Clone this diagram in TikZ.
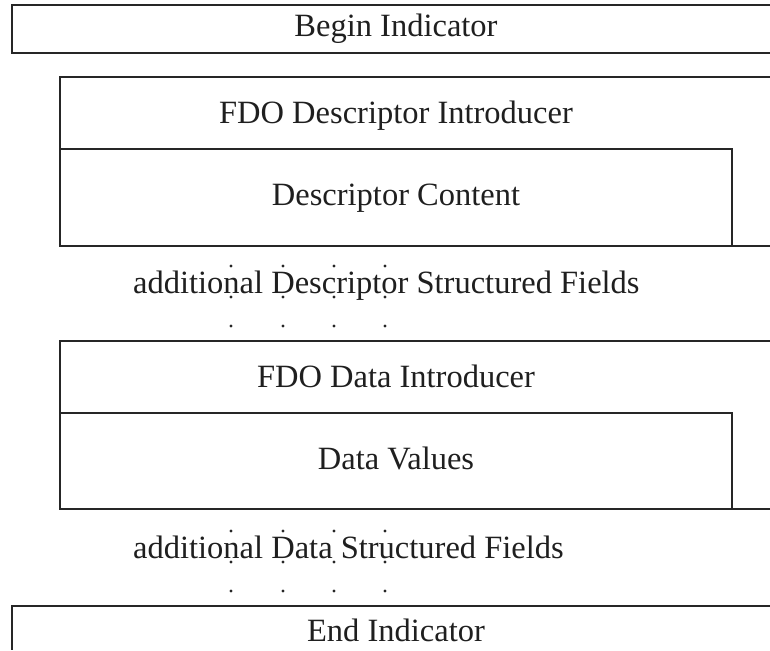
\documentclass[tikz,border=0pt]{standalone}
\usepackage{fontspec}
\setmainfont{Liberation Serif}
\begin{document}
\begin{tikzpicture}[x=1pt,y=-1pt,
  lbl/.style={inner sep=0pt,font=\fontsize{32.5}{38}\selectfont,text=black!88},
  boxline/.style={draw=black!85,line width=1.2pt,line join=miter},
  dotmark/.style={fill=black!85},
]
\useasboundingbox (0,0) rectangle (770,650);
% Begin Indicator
\draw[boxline] (770,5) -- (12,5) -- (12,53) -- (770,53);
\node[lbl,anchor=base] (begin) at (396,37) {Begin Indicator};
% FDO Descriptor
\draw[boxline] (770,77) -- (60,77) -- (60,246) -- (770,246);
\draw[boxline] (60,149) -- (732,149) -- (732,246);
\node[lbl,anchor=base] (fdodesc) at (396,123) {FDO Descriptor Introducer};
\node[lbl,anchor=base] (desccont) at (396,205) {Descriptor Content};
% additional descriptor fields
\node[lbl,anchor=base west] (adddesc) at (133,293) {additional Descriptor Structured Fields};
\foreach \xx in {231,283,334,385}{
  \foreach \yy in {266,297,326}{
    \fill[dotmark] (\xx,\yy) circle (1.7);
  }
}
% FDO Data
\draw[boxline] (770,341) -- (60,341) -- (60,509) -- (770,509);
\draw[boxline] (60,413) -- (732,413) -- (732,509);
\node[lbl,anchor=base] (fdodata) at (396,387) {FDO Data Introducer};
\node[lbl,anchor=base] (datavals) at (396,469) {Data Values};
% additional data fields
\node[lbl,anchor=base west] (adddata) at (133,558) {additional Data Structured Fields};
\foreach \xx in {231,283,334,385}{
  \foreach \yy in {531,562,591}{
    \fill[dotmark] (\xx,\yy) circle (1.7);
  }
}
% End Indicator
\draw[boxline] (770,606) -- (12,606) -- (12,650);
\node[lbl,anchor=base] (endind) at (396,641) {End Indicator};
\end{tikzpicture}
\end{document}
